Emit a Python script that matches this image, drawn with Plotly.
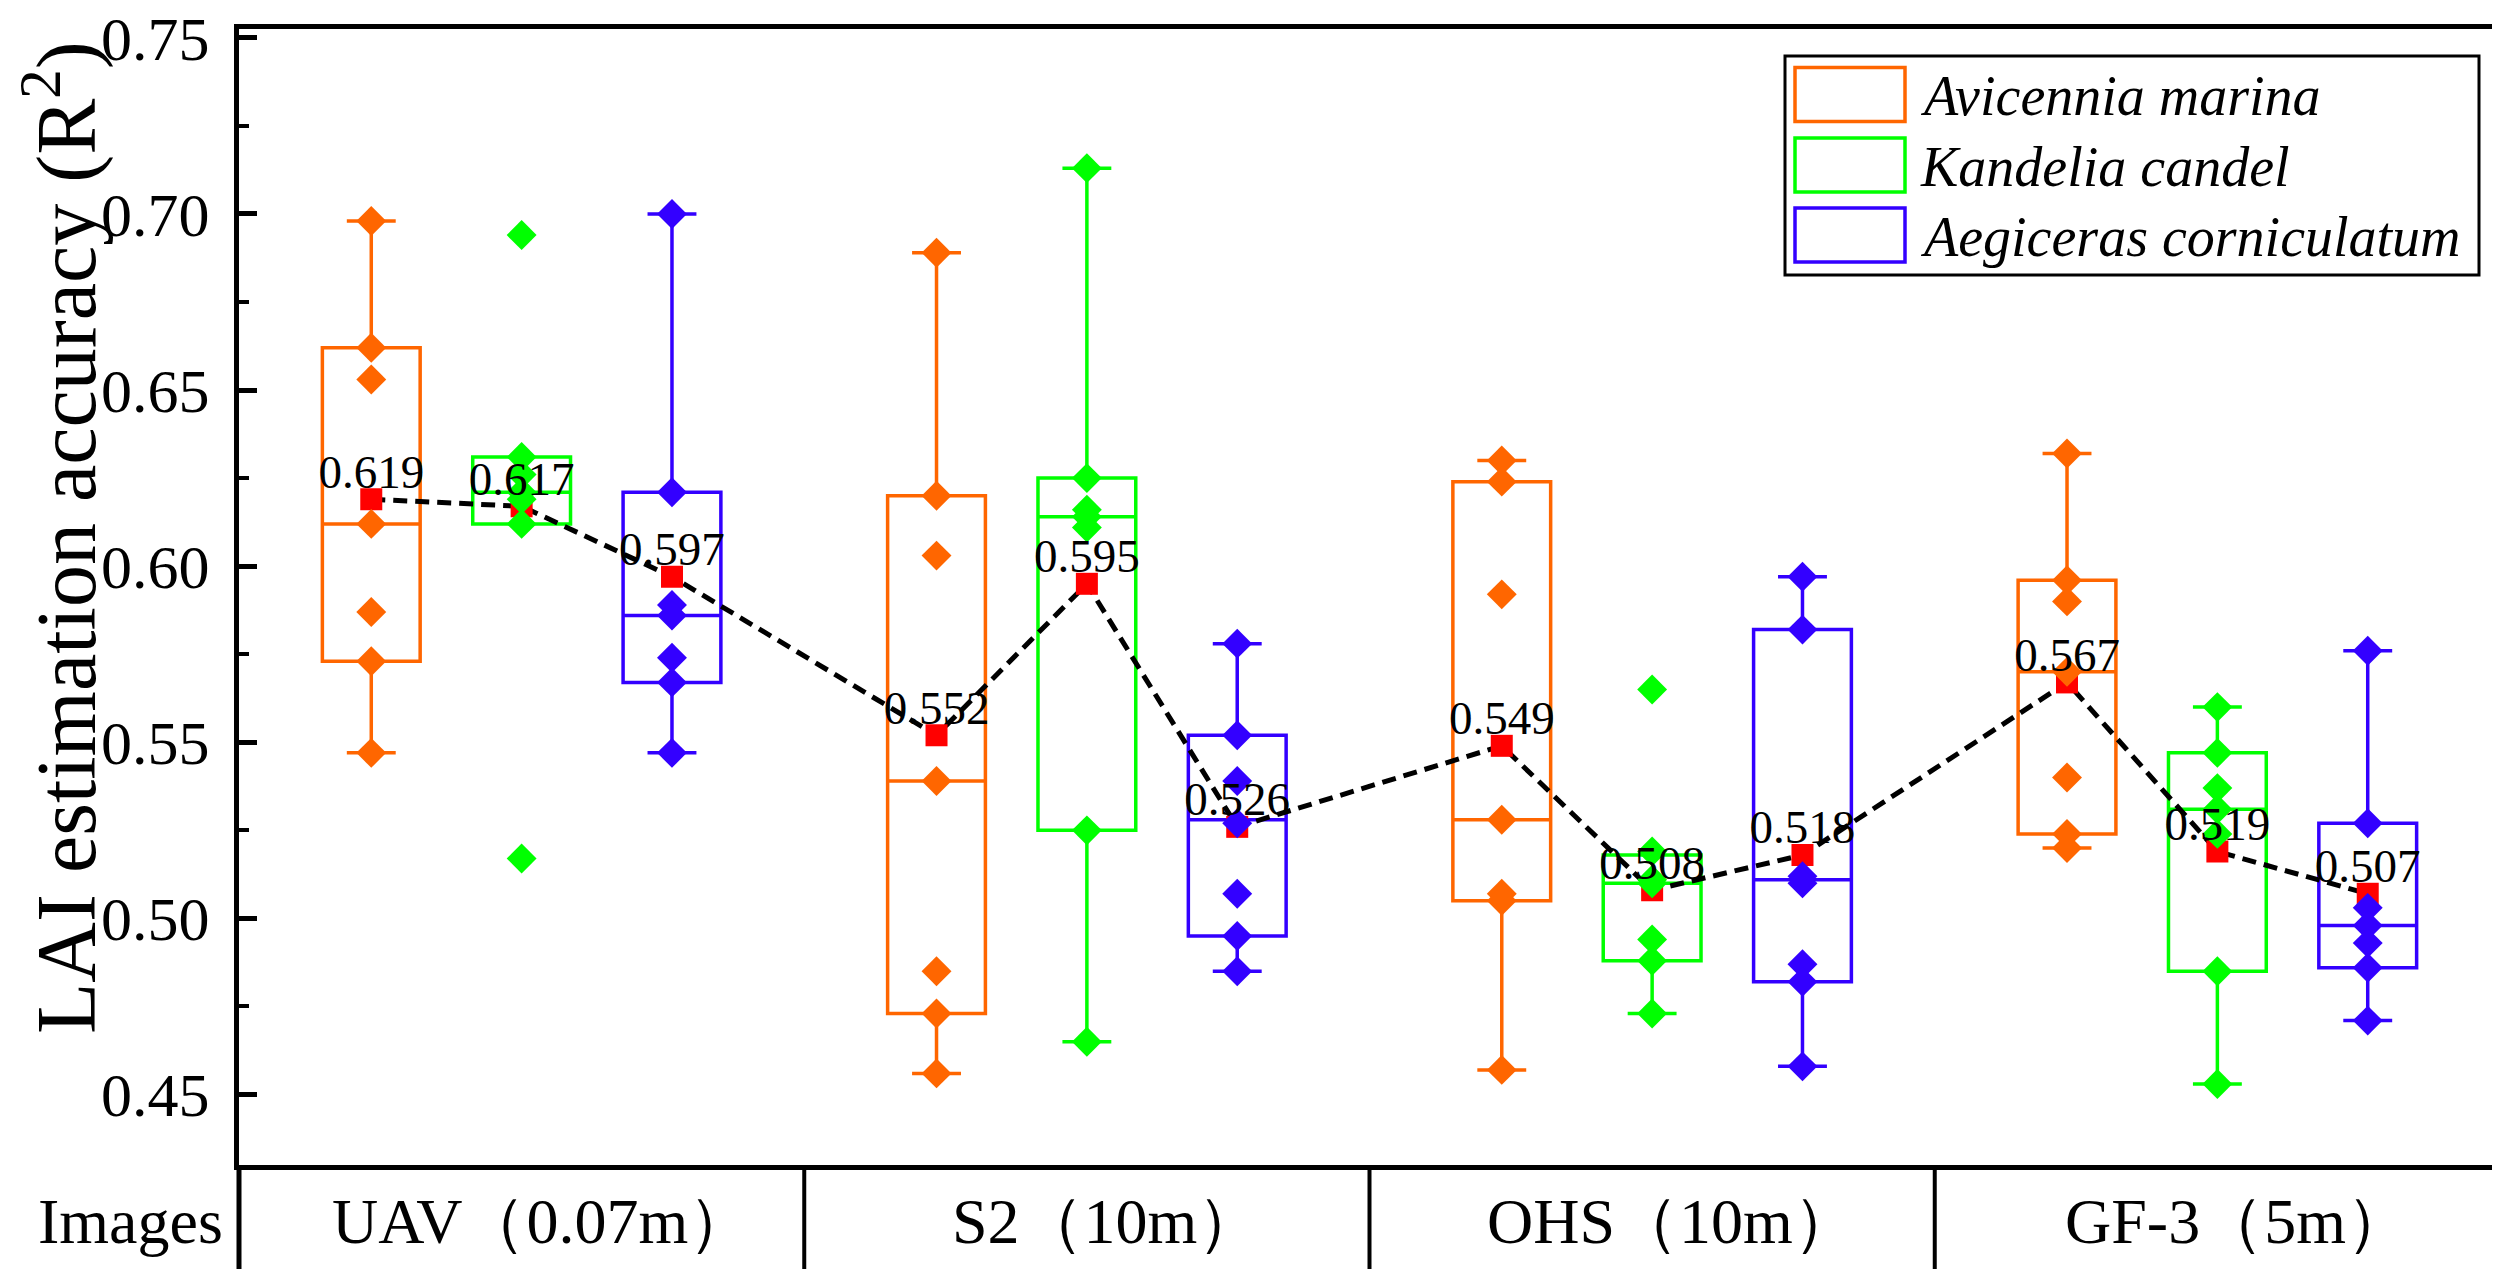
import plotly.graph_objects as go

# ---------------- data ----------------
categories = ["UAV（0.07m）", "S2（10m）", "OHS（10m）", "GF-3（5m）"]
species = ["Avicennia marina", "Kandelia candel", "Aegiceras corniculatum"]

# individual R2 values per image source (7 per box)
avicennia_points = [
    [0.698, 0.662, 0.653, 0.612, 0.587, 0.573, 0.547],
    [0.689, 0.620, 0.603, 0.539, 0.485, 0.473, 0.456],
    [0.630, 0.624, 0.592, 0.528, 0.507, 0.505, 0.457],
    [0.632, 0.596, 0.590, 0.570, 0.540, 0.524, 0.520],
]
kandelia_points = [
    [0.694, 0.631, 0.626, 0.621, 0.619, 0.612, 0.517],
    [0.713, 0.625, 0.616, 0.614, 0.611, 0.525, 0.465],
    [0.565, 0.519, 0.511, 0.510, 0.494, 0.488, 0.473],
    [0.560, 0.547, 0.537, 0.531, 0.524, 0.485, 0.453],
]
aegiceras_points = [
    [0.700, 0.621, 0.589, 0.586, 0.574, 0.567, 0.547],
    [0.578, 0.552, 0.539, 0.527, 0.507, 0.495, 0.485],
    [0.597, 0.582, 0.512, 0.510, 0.487, 0.482, 0.458],
    [0.576, 0.527, 0.503, 0.498, 0.493, 0.486, 0.471],
]

# box statistics (q1, median, q3, lower whisker, upper whisker)
avicennia_q1 = [0.573, 0.473, 0.505, 0.524]
avicennia_median = [0.612, 0.539, 0.528, 0.570]
avicennia_q3 = [0.662, 0.620, 0.624, 0.596]
avicennia_low = [0.547, 0.456, 0.457, 0.520]
avicennia_high = [0.698, 0.689, 0.630, 0.632]

kandelia_q1 = [0.612, 0.525, 0.488, 0.485]
kandelia_median = [0.621, 0.614, 0.510, 0.531]
kandelia_q3 = [0.631, 0.625, 0.518, 0.547]
kandelia_low = [0.612, 0.465, 0.473, 0.453]
kandelia_high = [0.631, 0.713, 0.518, 0.560]

aegiceras_q1 = [0.567, 0.495, 0.482, 0.486]
aegiceras_median = [0.586, 0.528, 0.511, 0.498]
aegiceras_q3 = [0.621, 0.552, 0.582, 0.527]
aegiceras_low = [0.547, 0.485, 0.458, 0.471]
aegiceras_high = [0.700, 0.578, 0.597, 0.576]

# mean values (labelled in the chart)
avicennia_mean = [0.619, 0.552, 0.549, 0.567]
kandelia_mean = [0.617, 0.595, 0.508, 0.519]
aegiceras_mean = [0.597, 0.526, 0.518, 0.507]

y_ticks = [0.45, 0.50, 0.55, 0.60, 0.65, 0.70, 0.75]
y_tick_labels = ["0.45", "0.50", "0.55", "0.60", "0.65", "0.70", "0.75"]

# ---------------- styling ----------------
colors = ["#FF6600", "#00FF00", "#3300FF"]
FONT = "Times New Roman, Liberation Serif, serif"
offsets = [-0.266, 0.0, 0.266]
BOX_W = 0.173

W_FIG, H_FIG = 2500, 1269
L, R_EDGE, T, B = 231, 2492, 21, 1157
PW, PH = R_EDGE - L, B - T


def px(x):
    return (x - L) / PW


def py(y):
    return (B - y) / PH


points = [avicennia_points, kandelia_points, aegiceras_points]
q1s = [avicennia_q1, kandelia_q1, aegiceras_q1]
meds = [avicennia_median, kandelia_median, aegiceras_median]
q3s = [avicennia_q3, kandelia_q3, aegiceras_q3]
lows = [avicennia_low, kandelia_low, aegiceras_low]
highs = [avicennia_high, kandelia_high, aegiceras_high]
means = [avicennia_mean, kandelia_mean, aegiceras_mean]

fig = go.Figure()
n_cat = len(categories)

# boxes
for s in range(3):
    xs = [c + offsets[s] for c in range(n_cat)]
    fig.add_trace(go.Box(
        x=xs, q1=q1s[s], median=meds[s], q3=q3s[s],
        lowerfence=lows[s], upperfence=highs[s],
        width=BOX_W, whiskerwidth=0.5, boxpoints=False,
        line=dict(color=colors[s], width=3.5),
        fillcolor="rgba(0,0,0,0)", name=species[s], showlegend=False,
    ))

# mean line (ordered category by category)
mx, my = [], []
for c in range(n_cat):
    for s in range(3):
        mx.append(c + offsets[s])
        my.append(means[s][c])
fig.add_trace(go.Scatter(
    x=mx, y=my, mode="lines",
    line=dict(color="black", width=5, dash="14px,8px"),
    showlegend=False, hoverinfo="skip",
))
# mean squares
fig.add_trace(go.Scatter(
    x=mx, y=my, mode="markers",
    marker=dict(symbol="square", size=22, color="#FF0000"),
    showlegend=False,
))

# diamonds (raw points)
for s in range(3):
    dx, dy = [], []
    for c in range(n_cat):
        for v in points[s][c]:
            dx.append(c + offsets[s])
            dy.append(v)
    fig.add_trace(go.Scatter(
        x=dx, y=dy, mode="markers",
        marker=dict(symbol="diamond", size=23, color=colors[s], line=dict(width=0)),
        showlegend=False,
    ))

# mean labels
fig.add_trace(go.Scatter(
    x=mx, y=my, mode="text", text=[f"{v:.3f}" for v in my],
    textposition="top center",
    textfont=dict(family=FONT, size=47, color="black"),
    showlegend=False, hoverinfo="skip",
))

shapes = []
annotations = []

# table under the plot
bottom_y = py(1265)
shapes.append(dict(type="line", xref="paper", yref="paper", x0=0, x1=0, y0=0, y1=bottom_y,
                   line=dict(color="black", width=5)))
shapes.append(dict(type="line", xref="paper", yref="paper", x0=1, x1=1, y0=0, y1=bottom_y,
                   line=dict(color="black", width=5)))
shapes.append(dict(type="line", xref="paper", yref="paper", x0=0, x1=1, y0=bottom_y, y1=bottom_y,
                   line=dict(color="black", width=5)))
for c in range(n_cat - 1):
    shapes.append(dict(type="line", xref="x", yref="paper", x0=c + 0.5, x1=c + 0.5,
                       y0=0, y1=bottom_y, line=dict(color="black", width=4)))
for c, name in enumerate(categories):
    annotations.append(dict(x=c, y=py(1213), xref="x", yref="paper", text=name,
                            showarrow=False, xanchor="center", yanchor="middle", xshift=20,
                            font=dict(family=FONT, size=64, color="black")))
annotations.append(dict(x=px(122), y=py(1213), xref="paper", yref="paper", text="Images",
                        showarrow=False, xanchor="center", yanchor="middle",
                        font=dict(family=FONT, size=64, color="black")))

# y-axis title
annotations.append(dict(x=px(53), y=py(530), xref="paper", yref="paper",
                        text="LAI estimation accuracy (R<sup>2</sup>)", textangle=-90,
                        showarrow=False, xanchor="center", yanchor="middle",
                        font=dict(family=FONT, size=84, color="black")))

# legend (manual)
shapes.append(dict(type="rect", xref="paper", yref="paper",
                   x0=px(1777), x1=px(2471), y0=py(267), y1=py(48),
                   line=dict(color="black", width=3), fillcolor="white", layer="above"))
row_centers = [86.5, 157, 227]
for s in range(3):
    yc = row_centers[s]
    shapes.append(dict(type="rect", xref="paper", yref="paper",
                       x0=px(1787), x1=px(1897), y0=py(yc + 27), y1=py(yc - 27),
                       line=dict(color=colors[s], width=3.5), fillcolor="rgba(0,0,0,0)",
                       layer="above"))
    annotations.append(dict(x=px(1910), y=py(yc + 2), xref="paper", yref="paper",
                            text=f"<i>{species[s]}</i>", showarrow=False,
                            xanchor="left", yanchor="middle",
                            font=dict(family=FONT, size=56, color="black")))

fig.update_layout(
    width=W_FIG, height=H_FIG,
    margin=dict(l=L, r=W_FIG - R_EDGE, t=T, b=H_FIG - B, autoexpand=False),
    paper_bgcolor="white", plot_bgcolor="white",
    boxmode="overlay",
    showlegend=False,
    shapes=shapes, annotations=annotations,
    xaxis=dict(range=[-0.5, n_cat - 0.5], showticklabels=False, ticks="",
               showgrid=False, zeroline=False, showline=True, mirror=True,
               linecolor="black", linewidth=5),
    yaxis=dict(range=[0.43, 0.7525], tickvals=y_ticks, ticktext=y_tick_labels,
               ticks="inside", ticklen=18, tickwidth=5, tickcolor="black",
               minor=dict(ticks="inside", ticklen=10, tickwidth=4, dtick=0.025,
                          tick0=0.45, tickcolor="black", showgrid=False),
               ticklabelstandoff=12, ticklabeloverflow="allow",
               tickfont=dict(family=FONT, size=62, color="black"),
               showgrid=False, zeroline=False, showline=True, mirror=True,
               linecolor="black", linewidth=5),
)

fig.write_html("out.html")
